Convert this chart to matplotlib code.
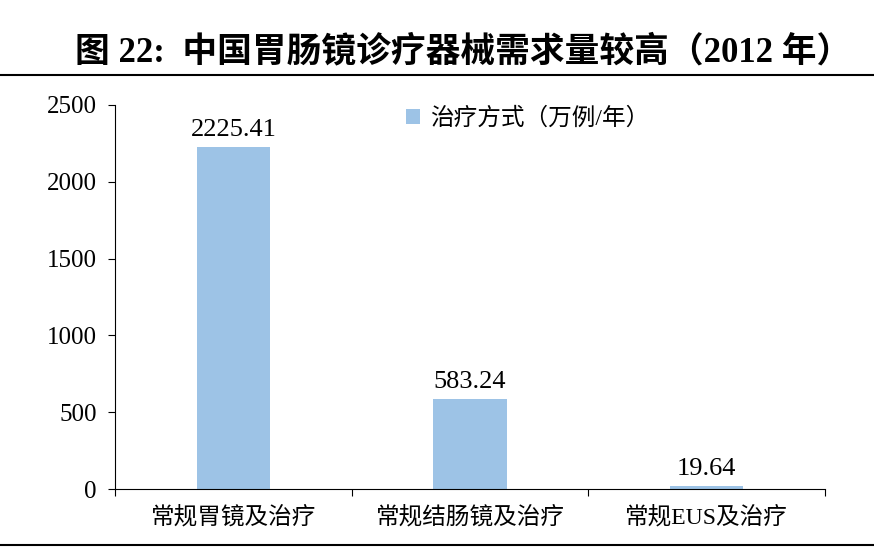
import matplotlib
matplotlib.use("Agg")
import matplotlib.pyplot as plt
from matplotlib.lines import Line2D

categories = ["常规胃镜及治疗", "常规结肠镜及治疗", "常规EUS及治疗"]
values = [2225.41, 583.24, 19.64]
labels = ["2225.41", "583.24", "19.64"]
yticks = [0, 500, 1000, 1500, 2000, 2500]

fam = ["Liberation Serif", "Noto Sans CJK SC"]
plt.rcParams['font.family'] = fam

fig = plt.figure(figsize=(8.74, 5.51), dpi=100)
ax = fig.add_axes([0.1316, 0.1125, 0.8124, 0.697])
x = range(len(categories))
ax.bar(x, values, width=0.31, color="#9dc3e6", label="治疗方式（万例/年）")
for i, (v, l) in enumerate(zip(values, labels)):
    ax.text(i, v + 40, l, ha="center", va="bottom", fontsize=19)
ax.set_xlim(-0.5, 2.5)
ax.set_ylim(0, 2500)
ax.set_yticks(yticks)
ax.set_yticklabels([str(t) for t in yticks], fontsize=18)
ax.set_xticks([-0.5, 0.5, 1.5, 2.5], minor=False)
ax.set_xticklabels([])
ax.set_xticks(list(x), minor=True)
ax.set_xticklabels(categories, minor=True, fontsize=17)
ax.tick_params(axis="x", which="minor", length=0, pad=12)
ax.tick_params(axis="x", which="major", direction="out", length=5)
ax.tick_params(axis="y", direction="out", length=5, pad=8)
for s in ["top", "right"]:
    ax.spines[s].set_visible(False)
ax.legend(loc="upper left", bbox_to_anchor=(0.38, 1.05), frameon=False,
          fontsize=17, handlelength=0.6, handleheight=0.6, handletextpad=0.4)

fig.text(0.53, 0.905, "图 22:  中国胃肠镜诊疗器械需求量较高（2012 年）", ha="center",
         va="center", fontsize=25, fontweight="bold")
fig.add_artist(Line2D([0, 1], [0.864, 0.864], color="black", lw=1.5))
fig.add_artist(Line2D([0, 1], [0.01, 0.01], color="black", lw=1.5))
fig.savefig("out.png", dpi=100)
